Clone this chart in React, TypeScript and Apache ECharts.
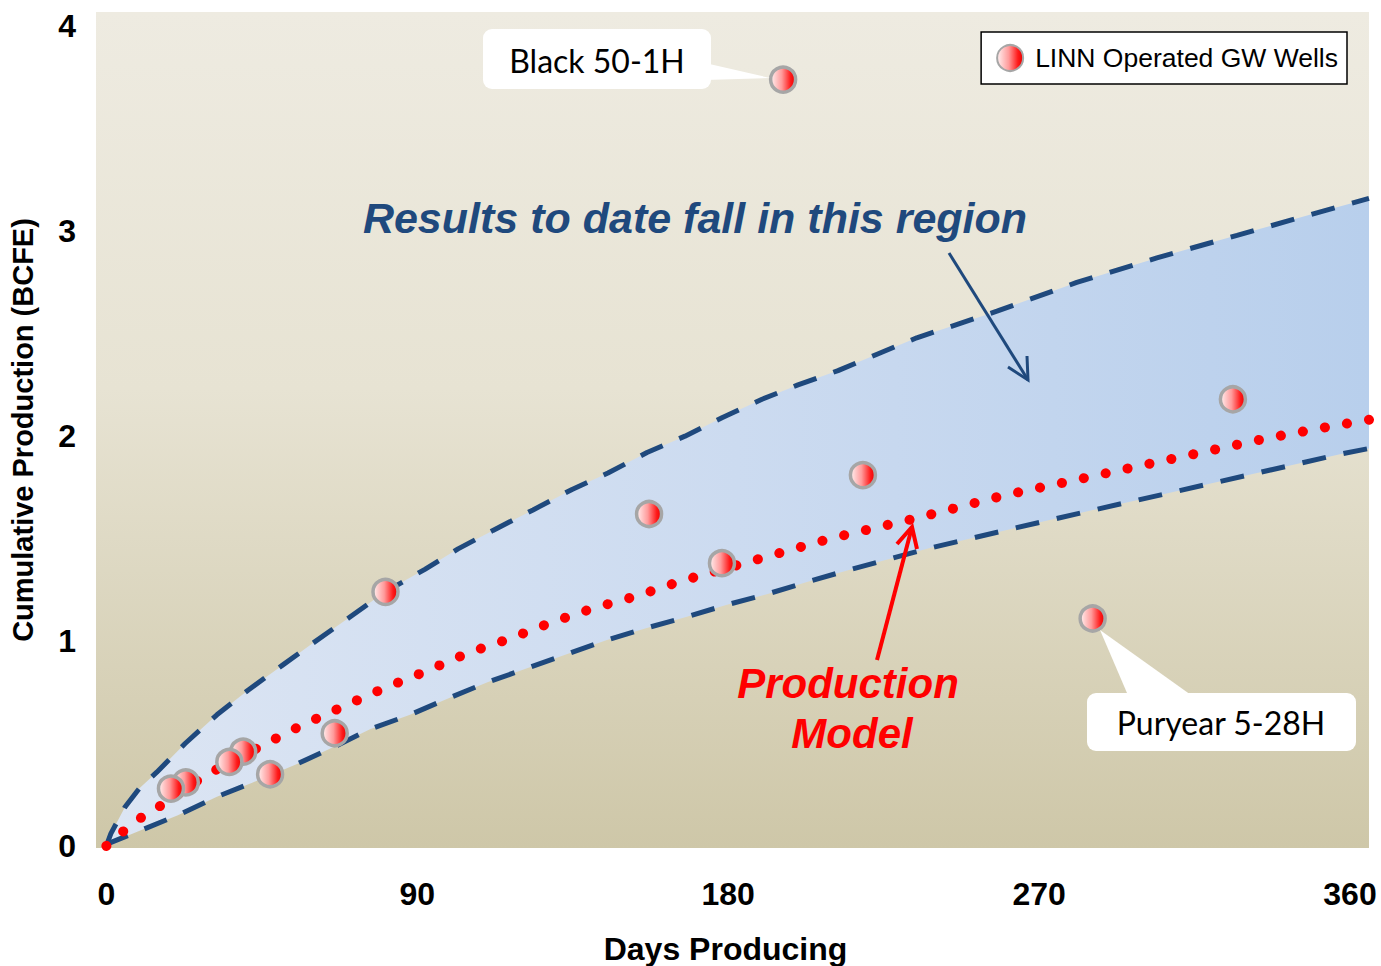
import React, { useEffect, useRef } from 'react';
import * as echarts from 'echarts';

const xTickLabels = [0, 90, 180, 270, 360];
const yTickLabels = [0, 1, 2, 3, 4];

const wellName = 'LINN Operated GW Wells';
const wellDays = [195.9, 326.1, 219.0, 157.1, 178.2, 80.8, 285.5, 66.1, 39.6, 35.6, 47.4, 23.0, 18.7];
const wellBcfe = [3.74, 2.18, 1.81, 1.62, 1.38, 1.24, 1.11, 0.55, 0.46, 0.41, 0.35, 0.31, 0.28];

const upperDays = [0, 1.3, 5.4, 9.5, 14.6, 22.8, 32.0, 41.0, 50.8, 59.8, 69.9, 80.7, 92.2, 101.8, 111.9, 123.5, 134.8, 145.2, 156.5, 167.5, 178.2, 189.8, 200.2, 211.8, 223.1, 234.6, 257.8, 280.9, 304.1, 327.3, 350.4, 365.5];
const upperBcfe = [0, 0.06, 0.19, 0.28, 0.36, 0.5, 0.64, 0.76, 0.88, 0.99, 1.11, 1.24, 1.35, 1.45, 1.54, 1.64, 1.74, 1.82, 1.92, 2.0, 2.09, 2.18, 2.25, 2.32, 2.4, 2.48, 2.61, 2.75, 2.87, 2.98, 3.09, 3.16];

const lowerDays = [0, 1.0, 9.1, 20.7, 32.0, 42.4, 55.2, 66.7, 76.3, 87.9, 98.9, 110.5, 144.9, 156.2, 167.8, 179.4, 191.2, 202.8, 214.7, 226.6, 238.4, 261.6, 285.6, 308.8, 333.1, 357.1, 365.5];
const lowerBcfe = [0, 0.015, 0.07, 0.15, 0.24, 0.31, 0.4, 0.49, 0.57, 0.64, 0.72, 0.8, 1.005, 1.063, 1.117, 1.176, 1.229, 1.288, 1.346, 1.4, 1.454, 1.546, 1.639, 1.727, 1.82, 1.912, 1.94];

const modelDays = [0, 1.4, 6.5, 11.7, 17.2, 28.2, 45.0, 56.7, 68.5, 80.4, 92.2, 104.4, 116.5, 128.7, 140.9, 153.6, 165.8, 184.6, 197.0, 209.5, 221.9, 234.6, 259.6, 278.9, 297.8, 316.9, 336.0, 355.1, 365.5];
const modelBcfe = [0, 0.03, 0.09, 0.16, 0.21, 0.34, 0.49, 0.59, 0.68, 0.77, 0.85, 0.94, 1.01, 1.09, 1.16, 1.22, 1.29, 1.38, 1.44, 1.5, 1.55, 1.6, 1.71, 1.78, 1.85, 1.92, 1.99, 2.05, 2.08];

const BLUE = '#1F497D';
const ARIAL = '"Liberation Sans", Arial, sans-serif';
const CALLOUT_FONT = 'Lato, "Open Sans", sans-serif';

export default function App() {
  const ref = useRef<HTMLDivElement>(null);

  useEffect(() => {
    if (!ref.current) return;
    const chart = echarts.init(ref.current, null, { renderer: 'svg' });

    const pointGradient = new echarts.graphic.LinearGradient(0, 0, 1, 0, [
      { offset: 0, color: '#FFF2F2' },
      { offset: 0.45, color: '#FF9A9A' },
      { offset: 0.8, color: '#FF1A1A' },
      { offset: 1, color: '#E80000' },
    ]);

    const option: any = {
      animation: false,
      backgroundColor: '#ffffff',
      grid: {
        left: 96,
        right: 12,
        top: 12,
        bottom: 118,
        containLabel: false,
        outerBoundsMode: 'none',
        show: true,
        borderWidth: 0,
        backgroundColor: new echarts.graphic.LinearGradient(0, 0, 0, 1, [
          { offset: 0, color: '#EEEBE1' },
          { offset: 0.45, color: '#E7E3D3' },
          { offset: 1, color: '#CEC7A8' },
        ]),
      },
      legend: {
        data: [wellName],
        right: 34,
        top: 32,
        orient: 'horizontal',
        backgroundColor: '#ffffff',
        borderColor: '#000000',
        borderWidth: 1.5,
        borderRadius: 0,
        padding: [12, 9, 12, 15],
        itemWidth: 26,
        itemHeight: 26,
        itemGap: 8,
        icon: 'circle',
        textStyle: { fontFamily: ARIAL, fontSize: 26.5, color: '#000', padding: [0, 0, 0, 7] },
      },
      xAxis: {
        type: 'value',
        min: -3,
        max: 365.5,
        axisLine: { show: false },
        axisTick: { show: false },
        splitLine: { show: false },
        axisLabel: {
          customValues: xTickLabels,
          margin: 30,
          fontFamily: ARIAL,
          fontWeight: 'bold',
          fontSize: 32,
          color: '#000',
        },
        name: 'Days Producing',
        nameLocation: 'middle',
        nameGap: 85,
        nameTextStyle: {
          fontFamily: ARIAL,
          fontWeight: 'bold',
          fontSize: 32,
          color: '#000',
          padding: [0, 14, 0, 0],
        },
      },
      yAxis: {
        type: 'value',
        min: -0.01,
        max: 4.07,
        axisLine: { show: false },
        axisTick: { show: false },
        splitLine: { show: false },
        axisLabel: {
          customValues: yTickLabels,
          margin: 20,
          fontFamily: ARIAL,
          fontWeight: 'bold',
          fontSize: 32,
          color: '#000',
        },
        name: 'Cumulative Production (BCFE)',
        nameLocation: 'middle',
        nameRotate: 90,
        nameGap: 59,
        nameTextStyle: { fontFamily: ARIAL, fontWeight: 'bold', fontSize: 29, color: '#000' },
      },
      series: [
        {
          type: 'custom',
          name: 'band',
          silent: true,
          clip: true,
          z: 1,
          data: [[0, 0]],
          renderItem: (_params: any, api: any) => {
            const pts: number[][] = [];
            for (let i = 0; i < upperDays.length; i++) pts.push(api.coord([upperDays[i], upperBcfe[i]]));
            for (let i = lowerDays.length - 1; i >= 0; i--) pts.push(api.coord([lowerDays[i], lowerBcfe[i]]));
            return {
              type: 'polygon',
              shape: { points: pts },
              style: {
                fill: new echarts.graphic.LinearGradient(0, 0, 1, 0, [
                  { offset: 0, color: '#DCE5F3' },
                  { offset: 0.5, color: '#CCDBF0' },
                  { offset: 1, color: '#B8CFEC' },
                ]),
              },
            };
          },
        },
        {
          type: 'line',
          name: 'upper',
          data: upperDays.map((d, i) => [d, upperBcfe[i]]),
          showSymbol: false,
          symbol: 'none',
          silent: true,
          z: 3,
          lineStyle: { color: BLUE, width: 5, type: [24, 18], cap: 'butt' },
        },
        {
          type: 'line',
          name: 'lower',
          data: lowerDays.map((d, i) => [d, lowerBcfe[i]]),
          showSymbol: false,
          symbol: 'none',
          silent: true,
          z: 3,
          lineStyle: { color: BLUE, width: 5, type: [24, 18], cap: 'butt' },
        },
        {
          type: 'line',
          name: 'model',
          data: modelDays.map((d, i) => [d, modelBcfe[i]]),
          showSymbol: false,
          symbol: 'none',
          silent: true,
          z: 4,
          lineStyle: { color: '#FF0000', width: 10, type: [0.1, 22.3], cap: 'round' },
        },
        {
          type: 'scatter',
          name: wellName,
          data: wellDays.map((d, i) => [d, wellBcfe[i]]),
          symbol: 'circle',
          symbolSize: 25,
          z: 5,
          itemStyle: { color: pointGradient, borderColor: '#A6A6A6', borderWidth: 3.5, opacity: 1 },
        },
      ],
      graphic: [
        // Black 50-1H callout
        {
          type: 'polygon',
          z: 10,
          shape: { points: [[705, 63], [770, 78], [705, 80]] },
          style: { fill: '#ffffff' },
        },
        {
          type: 'rect',
          z: 10,
          shape: { x: 483, y: 29, width: 228, height: 60, r: 9 },
          style: { fill: '#ffffff' },
        },
        {
          type: 'text',
          z: 11,
          x: 597,
          y: 60,
          style: {
            text: 'Black 50-1H',
            fill: '#000',
            fontFamily: CALLOUT_FONT,
            fontSize: 32,
            align: 'center',
            verticalAlign: 'middle',
          },
        },
        // Puryear 5-28H callout
        {
          type: 'polygon',
          z: 10,
          shape: { points: [[1130, 700], [1100, 630], [1198, 700]] },
          style: { fill: '#ffffff' },
        },
        {
          type: 'rect',
          z: 10,
          shape: { x: 1087, y: 693, width: 269, height: 58, r: 9 },
          style: { fill: '#ffffff' },
        },
        {
          type: 'text',
          z: 11,
          x: 1221,
          y: 722,
          style: {
            text: 'Puryear 5-28H',
            fill: '#000',
            fontFamily: CALLOUT_FONT,
            fontSize: 32,
            align: 'center',
            verticalAlign: 'middle',
          },
        },
        // Region annotation
        {
          type: 'text',
          z: 11,
          x: 695,
          y: 218,
          style: {
            text: 'Results to date fall in this region',
            fill: BLUE,
            fontFamily: ARIAL,
            fontWeight: 'bold',
            fontStyle: 'italic',
            fontSize: 43,
            align: 'center',
            verticalAlign: 'middle',
          },
        },
        {
          type: 'line',
          z: 11,
          shape: { x1: 949, y1: 253, x2: 1028, y2: 380 },
          style: { stroke: BLUE, lineWidth: 3 },
        },
        {
          type: 'polyline',
          z: 11,
          shape: { points: [[1008, 367], [1028, 380], [1027, 356]] },
          style: { stroke: BLUE, lineWidth: 3, fill: null },
        },
        // Production Model annotation
        {
          type: 'text',
          z: 11,
          x: 848,
          y: 683,
          style: {
            text: 'Production',
            fill: '#FF0000',
            fontFamily: ARIAL,
            fontWeight: 'bold',
            fontStyle: 'italic',
            fontSize: 42,
            align: 'center',
            verticalAlign: 'middle',
          },
        },
        {
          type: 'text',
          z: 11,
          x: 852,
          y: 733,
          style: {
            text: 'Model',
            fill: '#FF0000',
            fontFamily: ARIAL,
            fontWeight: 'bold',
            fontStyle: 'italic',
            fontSize: 42,
            align: 'center',
            verticalAlign: 'middle',
          },
        },
        {
          type: 'line',
          z: 11,
          shape: { x1: 877, y1: 660, x2: 912, y2: 527 },
          style: { stroke: '#FF0000', lineWidth: 4 },
        },
        {
          type: 'polyline',
          z: 11,
          shape: { points: [[897, 544], [912, 527], [917, 549]] },
          style: { stroke: '#FF0000', lineWidth: 4, fill: null },
        },
      ],
    };

    chart.setOption(option);
    return () => chart.dispose();
  }, []);

  return (
    <div
      ref={ref}
      style={{ position: 'absolute', left: 0, top: 0, width: 1381, height: 966 }}
    />
  );
}
